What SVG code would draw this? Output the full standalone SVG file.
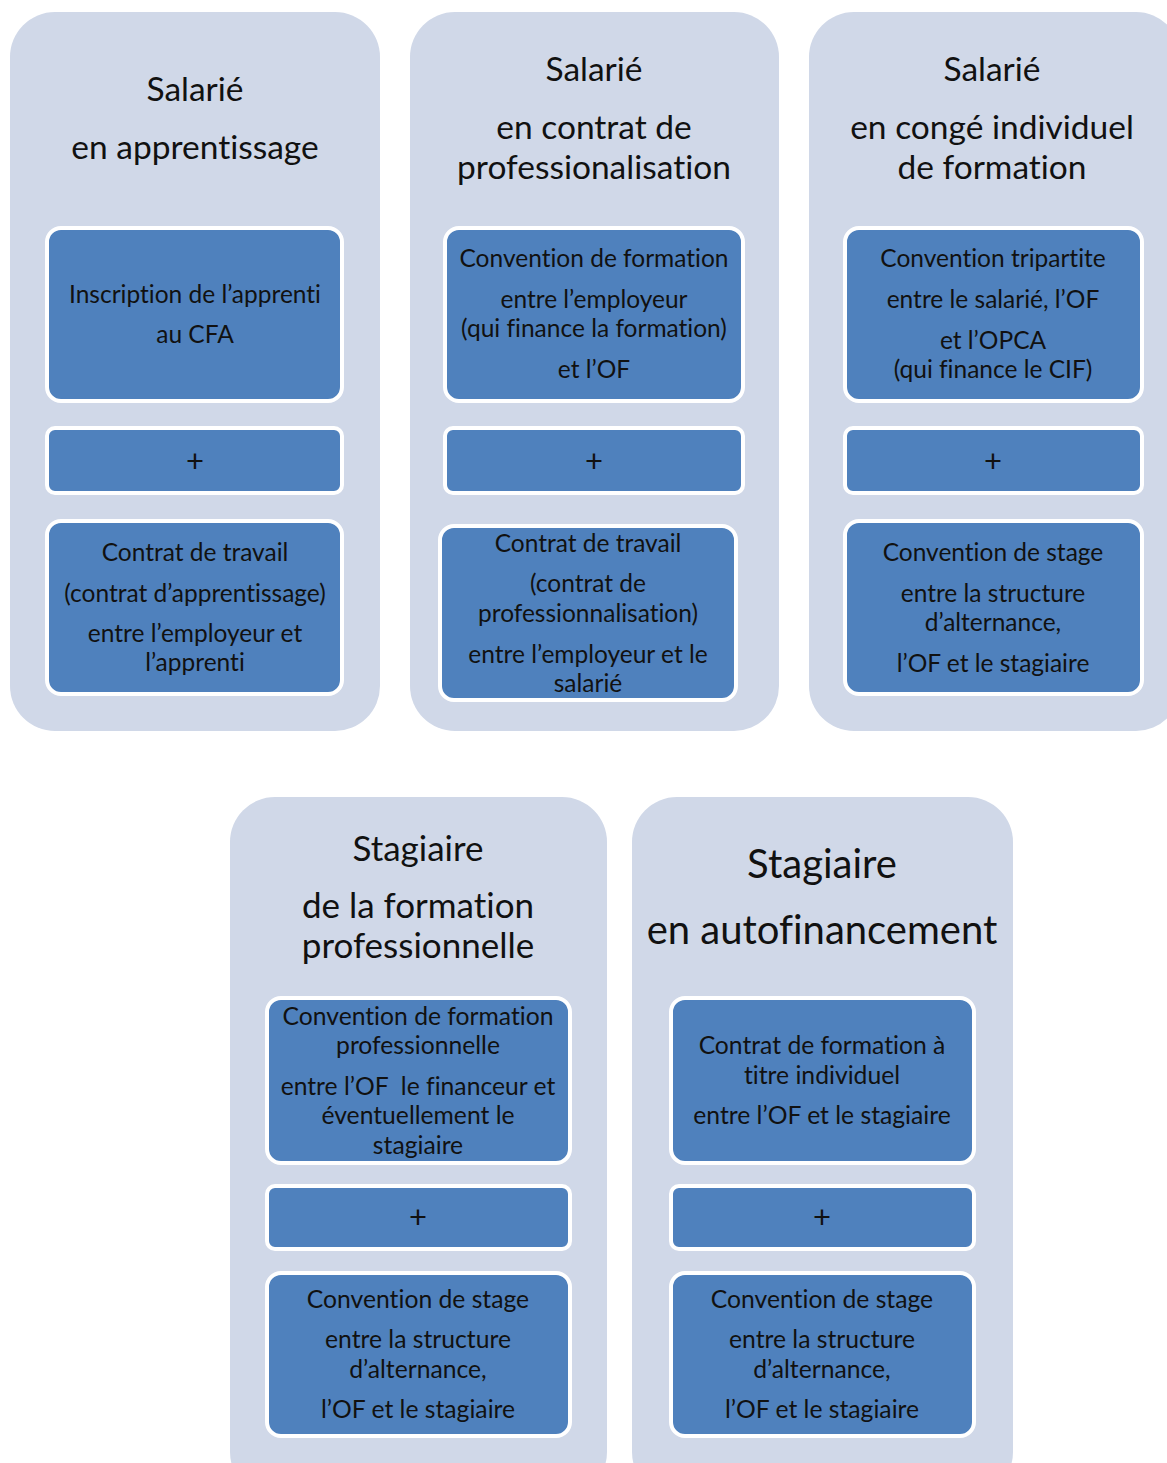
<svg xmlns="http://www.w3.org/2000/svg" width="1167" height="1463" viewBox="0 0 1167 1463">
<style>
.panel{fill:#D0D8E8}
.box{fill:#4F81BD;stroke:#FFFFFF;stroke-width:4}
text{font-family:Lato,"Open Sans","Liberation Sans",sans-serif;fill:#111;text-anchor:middle;font-variant-ligatures:none}
.t{font-size:33.5px}
.t2{font-size:35px}
.t3{font-size:40px}
.b{font-size:24.5px}
.b2{font-size:24.7px}
.p{font-size:31px}
</style>
<rect width="1167" height="1463" fill="#FFFFFF"/>
<g id="panel1">
<rect class="panel" x="10" y="12" width="370" height="719" rx="45"/>
<text class="t" x="195" y="101">Salarié</text>
<text class="t" x="195" y="159">en apprentissage</text>
</g>
<g id="p1-box1">
<rect class="box" x="47" y="228" width="295" height="173" rx="14"/>
<text class="b" x="195" y="303">Inscription de l’apprenti</text>
<text class="b" x="195" y="343">au CFA</text>
</g>
<g id="p1-plus">
<rect class="box" x="47" y="428" width="295" height="65" rx="8"/>
<text class="p" x="195" y="472">+</text>
</g>
<g id="p1-box2">
<rect class="box" x="47" y="521" width="295" height="173" rx="14"/>
<text class="b" x="195" y="561">Contrat de travail</text>
<text class="b" x="195" y="602">(contrat d’apprentissage)</text>
<text class="b" x="195" y="642">entre l’employeur et</text>
<text class="b" x="195" y="671">l’apprenti</text>
</g>
<g id="panel2">
<rect class="panel" x="410" y="12" width="369" height="719" rx="45"/>
<text class="t" x="594" y="81">Salarié</text>
<text class="t" x="594" y="139">en contrat de</text>
<text class="t" x="594" y="179">professionalisation</text>
</g>
<g id="p2-box1">
<rect class="box" x="445" y="228" width="298" height="173" rx="14"/>
<text class="b" x="594" y="267">Convention de formation</text>
<text class="b" x="594" y="308">entre l’employeur</text>
<text class="b" x="594" y="337">(qui finance la formation)</text>
<text class="b" x="594" y="378">et l’OF</text>
</g>
<g id="p2-plus">
<rect class="box" x="445" y="428" width="298" height="65" rx="8"/>
<text class="p" x="594" y="472">+</text>
</g>
<g id="p2-box2">
<rect class="box" x="440" y="526" width="296" height="174" rx="14"/>
<text class="b" x="588" y="552">Contrat de travail</text>
<text class="b" x="588" y="592">(contrat de</text>
<text class="b" x="588" y="622">professionnalisation)</text>
<text class="b" x="588" y="663">entre l’employeur et le</text>
<text class="b" x="588" y="692">salarié</text>
</g>
<g id="panel3">
<rect class="panel" x="809" y="12" width="372" height="719" rx="45"/>
<text class="t" x="992" y="81">Salarié</text>
<text class="t" x="992" y="139">en congé individuel</text>
<text class="t" x="992" y="179">de formation</text>
</g>
<g id="p3-box1">
<rect class="box" x="845" y="228" width="297" height="173" rx="14"/>
<text class="b" x="993" y="267">Convention tripartite</text>
<text class="b" x="993" y="308">entre le salarié, l’OF</text>
<text class="b" x="993" y="349">et l’OPCA</text>
<text class="b" x="993" y="378">(qui finance le CIF)</text>
</g>
<g id="p3-plus">
<rect class="box" x="845" y="428" width="297" height="65" rx="8"/>
<text class="p" x="993" y="472">+</text>
</g>
<g id="p3-box2">
<rect class="box" x="845" y="521" width="297" height="173" rx="14"/>
<text class="b" x="993" y="561">Convention de stage</text>
<text class="b" x="993" y="602">entre la structure</text>
<text class="b" x="993" y="631">d’alternance,</text>
<text class="b" x="993" y="672">l’OF et le stagiaire</text>
</g>
<g id="panel4">
<rect class="panel" x="230" y="797" width="377" height="700" rx="45"/>
<text class="t2" x="418" y="861">Stagiaire</text>
<text class="t2" x="418" y="918">de la formation</text>
<text class="t2" x="418" y="958">professionnelle</text>
</g>
<g id="p4-box1">
<rect class="box" x="267" y="998" width="303" height="165" rx="14"/>
<text class="b2" x="418" y="1025">Convention de formation</text>
<text class="b2" x="418" y="1054">professionnelle</text>
<text class="b2" x="418" y="1095" style="white-space:pre">entre l’OF  le financeur et</text>
<text class="b2" x="418" y="1124">éventuellement le</text>
<text class="b2" x="418" y="1154">stagiaire</text>
</g>
<g id="p4-plus">
<rect class="box" x="267" y="1186" width="303" height="63" rx="8"/>
<text class="p" x="418" y="1228">+</text>
</g>
<g id="p4-box2">
<rect class="box" x="267" y="1273" width="303" height="163" rx="14"/>
<text class="b2" x="418" y="1308">Convention de stage</text>
<text class="b2" x="418" y="1348">entre la structure</text>
<text class="b2" x="418" y="1378">d’alternance,</text>
<text class="b2" x="418" y="1418">l’OF et le stagiaire</text>
</g>
<g id="panel5">
<rect class="panel" x="632" y="797" width="381" height="700" rx="45"/>
<text class="t3" x="822" y="878">Stagiaire</text>
<text class="t3" x="822" y="944">en autofinancement</text>
</g>
<g id="p5-box1">
<rect class="box" x="671" y="998" width="303" height="165" rx="14"/>
<text class="b2" x="822" y="1054">Contrat de formation à</text>
<text class="b2" x="822" y="1084">titre individuel</text>
<text class="b2" x="822" y="1124">entre l’OF et le stagiaire</text>
</g>
<g id="p5-plus">
<rect class="box" x="671" y="1186" width="303" height="63" rx="8"/>
<text class="p" x="822" y="1228">+</text>
</g>
<g id="p5-box2">
<rect class="box" x="671" y="1273" width="303" height="163" rx="14"/>
<text class="b2" x="822" y="1308">Convention de stage</text>
<text class="b2" x="822" y="1348">entre la structure</text>
<text class="b2" x="822" y="1378">d’alternance,</text>
<text class="b2" x="822" y="1418">l’OF et le stagiaire</text>
</g>
<g id="connectors"></g>
</svg>
